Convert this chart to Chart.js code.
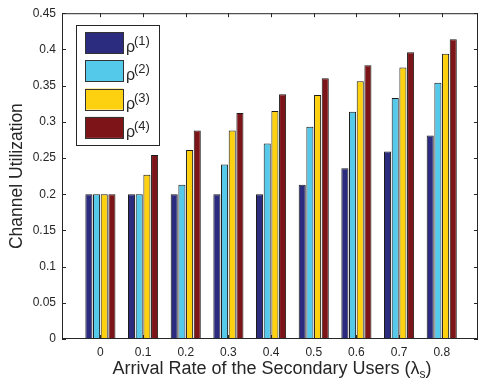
<!DOCTYPE html>
<html>
<head>
<meta charset="utf-8">
<script src="https://cdn.jsdelivr.net/npm/chart.js@4.4.1/dist/chart.umd.min.js"></script>
<style>
  html, body { margin: 0; padding: 0; background: #fff; }
  #wrap { width: 479px; height: 381px; position: relative; }
</style>
</head>
<body>
<div id="wrap"><canvas id="utilChart"></canvas></div>
<script>
let arrivalRates = [0, 0.1, 0.2, 0.3, 0.4, 0.5, 0.6, 0.7, 0.8]
let rho1 = [0.2, 0.2, 0.2, 0.2, 0.2, 0.213, 0.236, 0.259, 0.281]
let rho2 = [0.2, 0.2, 0.213, 0.241, 0.27, 0.293, 0.314, 0.333, 0.354]
let rho3 = [0.2, 0.227, 0.261, 0.288, 0.315, 0.337, 0.356, 0.375, 0.394]
let rho4 = [0.2, 0.254, 0.288, 0.312, 0.338, 0.36, 0.378, 0.396, 0.414]
let yTicks = [0, 0.05, 0.1, 0.15, 0.2, 0.25, 0.3, 0.35, 0.4, 0.45]
let seriesSup = ['(1)', '(2)', '(3)', '(4)']
let seriesColors = ['#2B2B7F', '#55C9EA', '#FDD10F', '#7D1518']

const ink = '#262626'
Chart.defaults.font.family = "'Liberation Sans', Arial, sans-serif"
Chart.defaults.color = ink

function points(values) {
  return values.map((v, i) => ({ x: arrivalRates[i], y: v }))
}

// matlab style box with inward ticks
const frame = {
  id: 'frame',
  afterDatasetsDraw(chart) {
    const { ctx, chartArea: a, scales: { x, y } } = chart
    ctx.save()
    ctx.strokeStyle = ink
    ctx.lineWidth = 1
    ctx.strokeRect(a.left + 0.5, a.top + 0.5, a.width - 1, a.height - 1)
    ctx.beginPath()
    x.ticks.forEach(t => {
      const px = Math.round(x.getPixelForValue(t.value)) + 0.5
      ctx.moveTo(px, a.bottom); ctx.lineTo(px, a.bottom - 4)
      ctx.moveTo(px, a.top); ctx.lineTo(px, a.top + 4)
    })
    y.ticks.forEach(t => {
      const py = Math.round(y.getPixelForValue(t.value)) + 0.5
      ctx.moveTo(a.left, py); ctx.lineTo(a.left + 4, py)
      ctx.moveTo(a.right, py); ctx.lineTo(a.right - 4, py)
    })
    ctx.stroke()
    ctx.restore()
  }
}

// legend box inside the plot, rho with superscripts
const rhoLegend = {
  id: 'rhoLegend',
  afterDraw(chart) {
    const { ctx } = chart
    ctx.save()
    ctx.fillStyle = '#fff'
    ctx.fillRect(76, 25, 83, 120)
    ctx.strokeStyle = ink
    ctx.lineWidth = 1
    ctx.strokeRect(76.5, 25.5, 83, 120)
    chart.data.datasets.forEach((ds, i) => {
      const top = 32 + i * 28.3
      ctx.fillStyle = ds.backgroundColor
      ctx.fillRect(85, top, 38, 21)
      ctx.strokeStyle = '#333'
      ctx.strokeRect(85.5, Math.round(top) + 0.5, 38, 21)
      ctx.fillStyle = ink
      ctx.textBaseline = 'alphabetic'
      ctx.font = "16px 'Liberation Sans', Arial, sans-serif"
      ctx.fillText('ρ', 126, top + 20)
      ctx.font = "13px 'Liberation Sans', Arial, sans-serif"
      ctx.fillText(seriesSup[i], 134, top + 13)
    })
    ctx.restore()
  }
}

// x title with subscript s
const xTitle = {
  id: 'xTitle',
  afterDraw(chart) {
    const { ctx } = chart
    const main = 'Arrival Rate of the Secondary Users (λ'
    const big = "18px 'Liberation Sans', Arial, sans-serif"
    const small = "12px 'Liberation Sans', Arial, sans-serif"
    ctx.save()
    ctx.fillStyle = ink
    ctx.textBaseline = 'alphabetic'
    ctx.font = big
    const w1 = ctx.measureText(main).width
    const w3 = ctx.measureText(')').width
    ctx.font = small
    const w2 = ctx.measureText('s').width
    let x0 = 272 - (w1 + w2 + w3) / 2
    const base = 374
    ctx.font = big
    ctx.fillText(main, x0, base)
    ctx.font = small
    ctx.fillText('s', x0 + w1, base + 4)
    ctx.font = big
    ctx.fillText(')', x0 + w1 + w2, base)
    ctx.restore()
  }
}

let utilChart = new Chart(document.querySelector('#utilChart'), {
  type: 'bar',
  plugins: [frame, rhoLegend, xTitle],
  data: {
    datasets: [rho1, rho2, rho3, rho4].map((vals, i) => ({
      label: 'ρ' + seriesSup[i],
      data: points(vals),
      backgroundColor: seriesColors[i],
      borderColor: '#1a1a1a',
      borderWidth: 1,
      categoryPercentage: 0.72,
      barPercentage: 0.92
    }))
  },
  options: {
    responsive: true,
    maintainAspectRatio: false,
    animation: false,
    layout: {
      padding: { top: 12, right: 1, left: 0, bottom: 0 }
    },
    scales: {
      x: {
        type: 'linear',
        min: -0.09,
        max: 0.885,
        offset: false,
        afterBuildTicks: s => { s.ticks = arrivalRates.map(v => ({ value: v })) },
        afterFit: s => { s.height = 42 },
        border: { display: false },
        grid: { display: false, drawTicks: false },
        ticks: {
          padding: 6,
          color: ink,
          font: { size: 12 },
          callback: v => String(v)
        }
      },
      y: {
        min: 0,
        max: 0.45,
        afterBuildTicks: s => { s.ticks = yTicks.map(v => ({ value: v })) },
        afterFit: s => { s.width = 62 },
        border: { display: false },
        grid: { display: false, drawTicks: false },
        ticks: {
          padding: 6,
          color: ink,
          font: { size: 12 },
          callback: v => String(v)
        },
        title: {
          display: true,
          text: 'Channel Utilization',
          color: ink,
          font: { size: 17.5 },
          padding: { top: 6.5, bottom: 0 }
        }
      }
    },
    plugins: {
      legend: { display: false },
      tooltip: { enabled: false }
    }
  }
})
</script>
</body>
</html>
